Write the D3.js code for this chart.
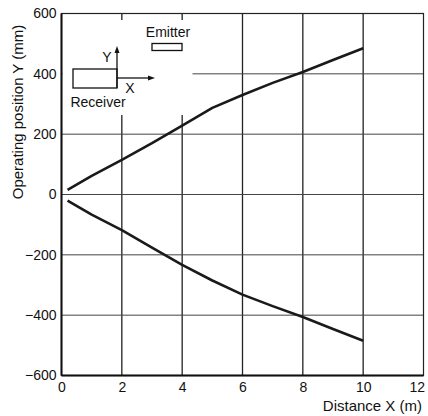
<!DOCTYPE html>
<html><head><meta charset="utf-8">
<script src="https://cdn.jsdelivr.net/npm/d3@7/dist/d3.min.js"></script>
<style>body{margin:0;background:#fff}svg{display:block;font-family:"Liberation Sans",Arial,sans-serif}</style>
</head><body><svg id="c" width="428" height="416"></svg>
<script>
const distance = [0.2, 1, 2, 3, 4, 5, 6, 7, 8, 9, 10];
const upperY = [15, 62, 115, 170, 228, 287, 330, 370, 406, 446, 485];
const lowerY = [-20, -67, -118, -176, -233, -285, -332, -370, -406, -446, -485];
const xTicks = [0, 2, 4, 6, 8, 10, 12];
const yTicks = [-600, -400, -200, 0, 200, 400, 600];

const svg = d3.select("#c");
const L = 61.5, R = 423.5, T = 13.5, B = 375.5;
const x = d3.scaleLinear().domain([0, 12]).range([L, R]);
const y = d3.scaleLinear().domain([-600, 600]).range([B, T]);

// grid
const g = svg.append("g");
g.selectAll(".v").data(xTicks.slice(1, -1)).join("line")
  .attr("x1", d => x(d)).attr("x2", d => x(d)).attr("y1", T).attr("y2", B)
  .attr("stroke", "#222").attr("stroke-width", 1.3);
g.selectAll(".h").data(yTicks.slice(1, -1)).join("line")
  .attr("x1", L).attr("x2", R).attr("y1", d => y(d)).attr("y2", d => y(d))
  .attr("stroke", "#444").attr("stroke-width", 1);

// white inset box covering grid
svg.append("rect").attr("x", L + 1).attr("y", 20).attr("width", 130).attr("height", 95).attr("fill", "#fff");

// frame
svg.append("rect").attr("x", L).attr("y", T).attr("width", R - L).attr("height", B - T)
  .attr("fill", "none").attr("stroke", "#222").attr("stroke-width", 1.2);
svg.append("line").attr("x1", L).attr("x2", L).attr("y1", T).attr("y2", B).attr("stroke", "#111").attr("stroke-width", 2);
svg.append("line").attr("x1", L).attr("x2", R).attr("y1", B).attr("y2", B).attr("stroke", "#111").attr("stroke-width", 2);

// axes
const xAxis = d3.axisBottom(x).tickValues(xTicks).tickSize(0).tickPadding(7).tickFormat(d3.format("d"));
const xg = svg.append("g").attr("transform", `translate(0,${B})`).call(xAxis);
xg.select(".domain").remove();
xg.selectAll("text").attr("font-size", 14).attr("fill", "#111").attr("font-family", "Liberation Sans, Arial, sans-serif");
xg.selectAll(".tick").filter(d => d === 12).select("text").attr("text-anchor", "end").attr("dx", 1);

const yAxis = d3.axisLeft(y).tickValues(yTicks).tickSize(0).tickPadding(5)
  .tickFormat(d => d < 0 ? "\u2212" + Math.abs(d) : String(d));
const yg = svg.append("g").attr("transform", `translate(${L},0)`).call(yAxis);
yg.select(".domain").remove();
yg.selectAll("text").attr("font-size", 14).attr("fill", "#111").attr("font-family", "Liberation Sans, Arial, sans-serif");

// curves
const line = d3.line().x(d => x(d[0])).y(d => y(d[1]));
[upperY, lowerY].forEach(s => {
  svg.append("path").datum(distance.map((d, i) => [d, s[i]])).attr("d", line)
    .attr("fill", "none").attr("stroke", "#1a1a1a").attr("stroke-width", 2.6).attr("stroke-linejoin", "round");
});

// axis titles
svg.append("text").attr("transform", "translate(23,112) rotate(-90)").attr("text-anchor", "middle")
  .attr("font-size", 15).attr("fill", "#111").text("Operating position Y (mm)");
svg.append("text").attr("x", 422).attr("y", 411).attr("text-anchor", "end")
  .attr("font-size", 15).attr("fill", "#111").text("Distance X (m)");

// inset diagram
const ins = svg.append("g").attr("fill", "none").attr("stroke", "#111").attr("stroke-width", 1.3);
ins.append("rect").attr("x", 73).attr("y", 69).attr("width", 44).attr("height", 19);
ins.append("rect").attr("x", 152).attr("y", 43.5).attr("width", 30).attr("height", 7);
ins.append("line").attr("x1", 117).attr("y1", 88).attr("x2", 117).attr("y2", 52);
ins.append("line").attr("x1", 117).attr("y1", 78).attr("x2", 148).attr("y2", 78);
svg.append("path").attr("d", "M117,46 L114.5,53 L119.5,53 Z").attr("fill", "#111");
svg.append("path").attr("d", "M155,78 L148,75.5 L148,80.5 Z").attr("fill", "#111");
const t = svg.append("g").attr("font-size", 14).attr("fill", "#111");
t.append("text").attr("x", 168).attr("y", 37).attr("text-anchor", "middle").text("Emitter");
t.append("text").attr("x", 98).attr("y", 107).attr("text-anchor", "middle").text("Receiver");
t.append("text").attr("x", 107).attr("y", 62).attr("text-anchor", "middle").text("Y");
t.append("text").attr("x", 130).attr("y", 93).attr("text-anchor", "middle").text("X");
</script></body></html>
